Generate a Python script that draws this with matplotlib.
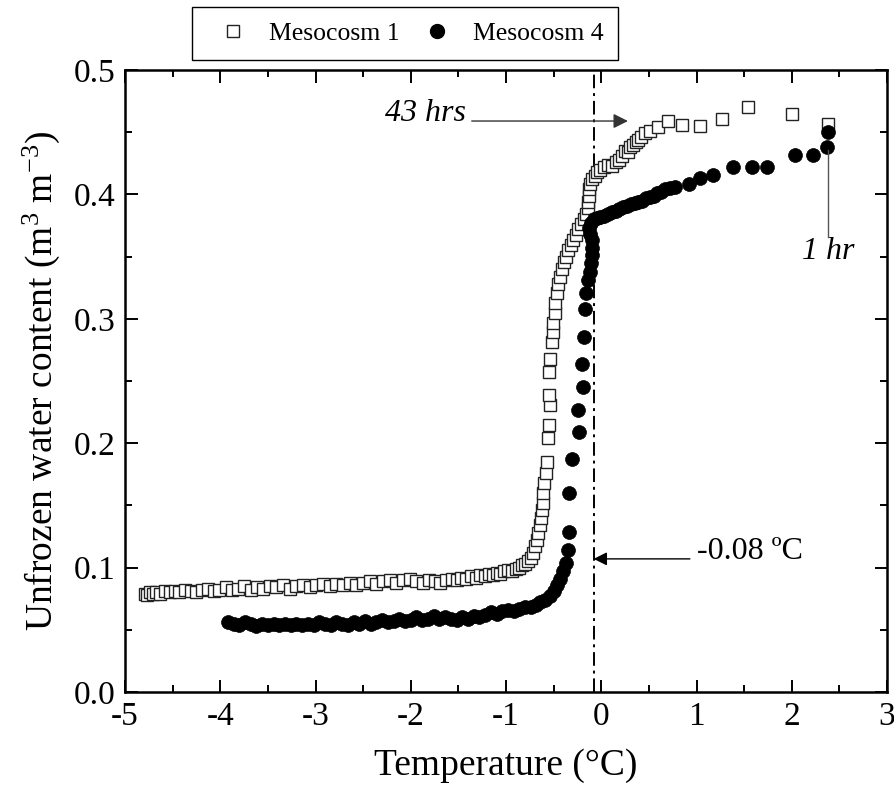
import matplotlib
matplotlib.use("Agg")
import matplotlib.pyplot as plt
from matplotlib.ticker import MultipleLocator, FormatStrFormatter
from matplotlib.lines import Line2D

plt.rcParams["font.family"] = ["Liberation Serif", "DejaVu Serif"]
plt.rcParams["mathtext.fontset"] = "custom"
plt.rcParams["mathtext.rm"] = "Liberation Serif"
plt.rcParams["mathtext.it"] = "Liberation Serif:italic"
plt.rcParams["axes.unicode_minus"] = False

# Mesocosm 1 (open squares)
m1_temp = [
    -4.79, -4.77, -4.74, -4.71, -4.67, -4.63, -4.58, -4.53, -4.48, -4.43,
    -4.37, -4.31, -4.25, -4.19, -4.13, -4.07, -4.01, -3.94, -3.88, -3.81,
    -3.75, -3.68, -3.61, -3.55, -3.48, -3.41, -3.34, -3.27, -3.20, -3.13,
    -3.06, -2.99, -2.92, -2.85, -2.78, -2.71, -2.64, -2.57, -2.50, -2.43,
    -2.36, -2.29, -2.22, -2.15, -2.08, -2.01, -1.94, -1.87, -1.81, -1.75,
    -1.69, -1.63, -1.57, -1.52, -1.47, -1.42, -1.37, -1.32, -1.27, -1.22,
    -1.18, -1.14, -1.10, -1.06, -1.02, -0.98, -0.94, -0.90, -0.86, -0.83,
    -0.80, -0.77, -0.74, -0.72, -0.70, -0.68, -0.66, -0.64, -0.63, -0.62,
    -0.61, -0.61, -0.60, -0.58, -0.57, -0.56, -0.55, -0.54, -0.55, -0.55,
    -0.54, -0.52, -0.51, -0.51, -0.49, -0.49, -0.47, -0.45, -0.43, -0.41,
    -0.39, -0.37, -0.35, -0.32, -0.30, -0.27, -0.24, -0.21, -0.18, -0.16,
    -0.14, -0.14, -0.13, -0.13, -0.12, -0.10, -0.07, -0.04, -0.01, 0.03,
    0.07, 0.11, 0.15, 0.19, 0.22, 0.25, 0.28, 0.30, 0.33, 0.36,
    0.39, 0.42, 0.46, 0.51, 0.60, 0.70, 0.85, 1.04, 1.27, 1.54,
    2.00, 2.38,
]
m1_water = [
    0.079, 0.078, 0.080, 0.079, 0.080, 0.079, 0.081, 0.080, 0.081, 0.080,
    0.082, 0.081, 0.080, 0.082, 0.083, 0.081, 0.082, 0.084, 0.082, 0.083,
    0.085, 0.082, 0.084, 0.083, 0.085, 0.084, 0.086, 0.083, 0.085, 0.086,
    0.084, 0.086, 0.087, 0.085, 0.087, 0.086, 0.088, 0.086, 0.088, 0.089,
    0.087, 0.089, 0.090, 0.088, 0.090, 0.091, 0.089, 0.088, 0.090, 0.089,
    0.088, 0.090, 0.091, 0.090, 0.092, 0.091, 0.093, 0.092, 0.094, 0.093,
    0.095, 0.094, 0.096, 0.095, 0.097, 0.098, 0.097, 0.099, 0.100, 0.102,
    0.103, 0.105, 0.108, 0.112, 0.117, 0.122, 0.128, 0.134, 0.140, 0.146,
    0.152, 0.160, 0.168, 0.176, 0.185, 0.204, 0.215, 0.231, 0.239, 0.257,
    0.268, 0.281, 0.289, 0.297, 0.305, 0.313, 0.321, 0.328, 0.334, 0.340,
    0.346, 0.350, 0.355, 0.359, 0.363, 0.367, 0.372, 0.376, 0.380, 0.384,
    0.389, 0.394, 0.399, 0.404, 0.408, 0.412, 0.415, 0.418, 0.420, 0.422,
    0.424, 0.423, 0.426, 0.428, 0.431, 0.435, 0.434, 0.438, 0.440, 0.442,
    0.444, 0.446, 0.449, 0.451, 0.454, 0.459, 0.456, 0.455, 0.461, 0.470,
    0.465, 0.457,
]

# Mesocosm 4 (filled circles)
m4_temp = [
    -3.92, -3.86, -3.80, -3.74, -3.68, -3.62, -3.56, -3.50, -3.44, -3.38,
    -3.32, -3.26, -3.20, -3.14, -3.08, -3.02, -2.96, -2.90, -2.84, -2.78,
    -2.72, -2.66, -2.60, -2.54, -2.48, -2.42, -2.36, -2.30, -2.24, -2.18,
    -2.12, -2.06, -2.00, -1.94, -1.88, -1.82, -1.76, -1.70, -1.64, -1.58,
    -1.52, -1.46, -1.40, -1.34, -1.28, -1.22, -1.16, -1.10, -1.04, -0.98,
    -0.92, -0.86, -0.80, -0.74, -0.69, -0.64, -0.59, -0.54, -0.50, -0.46,
    -0.43, -0.40, -0.37, -0.35, -0.34, -0.34, -0.31, -0.23, -0.24, -0.19,
    -0.20, -0.18, -0.17, -0.16, -0.14, -0.12, -0.11, -0.10, -0.10, -0.10,
    -0.12, -0.13, -0.11, -0.08, -0.05, -0.01, 0.03, 0.07, 0.11, 0.15,
    0.19, 0.23, 0.27, 0.31, 0.35, 0.39, 0.43, 0.47, 0.51, 0.55,
    0.59, 0.63, 0.67, 0.72, 0.77, 0.92, 1.04, 1.17, 1.38, 1.58,
    1.74, 2.03, 2.22, 2.37, 2.38,
]
m4_water = [
    0.056, 0.055, 0.054, 0.056, 0.055, 0.053, 0.055, 0.054, 0.055, 0.054,
    0.055, 0.054, 0.055, 0.054, 0.055, 0.054, 0.056, 0.055, 0.054, 0.056,
    0.055, 0.054, 0.056, 0.055, 0.057, 0.055, 0.056, 0.058, 0.056, 0.057,
    0.059, 0.057, 0.058, 0.060, 0.058, 0.059, 0.061, 0.059, 0.060, 0.059,
    0.058, 0.060, 0.059, 0.061, 0.060, 0.062, 0.064, 0.063, 0.065, 0.066,
    0.065, 0.067, 0.068, 0.068, 0.070, 0.072, 0.074, 0.077, 0.081, 0.086,
    0.091, 0.097, 0.104, 0.114, 0.129, 0.160, 0.187, 0.209, 0.227, 0.245,
    0.264, 0.285, 0.308, 0.321, 0.331, 0.338, 0.345, 0.351, 0.357, 0.363,
    0.368, 0.373, 0.377, 0.380, 0.381, 0.382, 0.383, 0.384, 0.386, 0.387,
    0.388, 0.390, 0.391, 0.392, 0.393, 0.394, 0.395, 0.397, 0.398, 0.399,
    0.401, 0.402, 0.404, 0.405, 0.406, 0.408, 0.413, 0.416, 0.422, 0.422,
    0.422, 0.432, 0.432, 0.438, 0.450,
]

freeze_point = -0.08
series_labels = ["Mesocosm 1", "Mesocosm 4"]
x_ticks = [-5, -4, -3, -2, -1, 0, 1, 2, 3]
y_ticks = [0.0, 0.1, 0.2, 0.3, 0.4, 0.5]

fig = plt.figure(figsize=(8.95, 7.94), dpi=100)
ax = fig.add_axes([0.1397, 0.1285, 0.8514, 0.7833])

ax.plot(m1_temp, m1_water, linestyle="none", marker="s", markersize=8.3,
        markerfacecolor="white", markeredgecolor="#222222", markeredgewidth=1.0)
ax.plot(m4_temp, m4_water, linestyle="none", marker="o", markersize=10,
        markerfacecolor="black", markeredgecolor="black", markeredgewidth=0.5)

# freezing point marker line
ax.axvline(freeze_point, color="black", lw=1.4,
           linestyle=(0, (7, 2.5, 1.5, 2.5)), zorder=1)

ax.set_xlim(-5, 3)
ax.set_ylim(0, 0.5)
ax.set_xticks(x_ticks)
ax.set_yticks(y_ticks)
ax.xaxis.set_minor_locator(MultipleLocator(0.5))
ax.yaxis.set_minor_locator(MultipleLocator(0.05))
ax.xaxis.set_major_formatter(FormatStrFormatter("%d"))
ax.yaxis.set_major_formatter(FormatStrFormatter("%.1f"))
ax.tick_params(which="both", direction="in", top=True, right=True, width=1.4)
ax.tick_params(which="major", length=9, labelsize=24, pad=7)
ax.tick_params(which="minor", length=5)
for sp in ax.spines.values():
    sp.set_linewidth(1.8)

ax.set_xlabel("Temperature (\u00b0C)", fontsize=27, labelpad=12)
ax.set_ylabel("Unfrozen water content (m$^{3}$ m$^{-3}$)", fontsize=27, labelpad=8)

# annotations
ax.annotate("", xy=(0.28, 0.459), xytext=(-1.36, 0.459),
            arrowprops=dict(arrowstyle="-|>", color="#333333", lw=1.0,
                            mutation_scale=22, shrinkA=0, shrinkB=0))
ax.text(-1.42, 0.465, "43 hrs", fontsize=23, style="italic",
        ha="right", va="center")

ax.plot([2.38, 2.38], [0.366, 0.436], color="#555555", lw=1.0)
ax.text(2.38, 0.354, "1 hr", fontsize=23, style="italic",
        ha="center", va="center")

ax.annotate("", xy=(freeze_point, 0.107), xytext=(0.93, 0.107),
            arrowprops=dict(arrowstyle="-|>", color="black", lw=1.0,
                            mutation_scale=20, shrinkA=0, shrinkB=0))
ax.text(1.0, 0.113, "-0.08 \u00baC", fontsize=23, ha="left", va="center")

handles = [
    Line2D([], [], linestyle="none", marker="s", markersize=8,
           markerfacecolor="white", markeredgecolor="#222222", markeredgewidth=1.0),
    Line2D([], [], linestyle="none", marker="o", markersize=10,
           markerfacecolor="black", markeredgecolor="black"),
]
leg = fig.legend(handles, series_labels, loc="center",
                 bbox_to_anchor=(0.453, 0.958), ncol=2, fontsize=18.5,
                 frameon=True, fancybox=False, edgecolor="black",
                 framealpha=1, handletextpad=0.39, columnspacing=0.47,
                 borderpad=0.58, handlelength=2.0, borderaxespad=0)
leg.get_frame().set_linewidth(1.0)

fig.savefig("out.png", dpi=100)
